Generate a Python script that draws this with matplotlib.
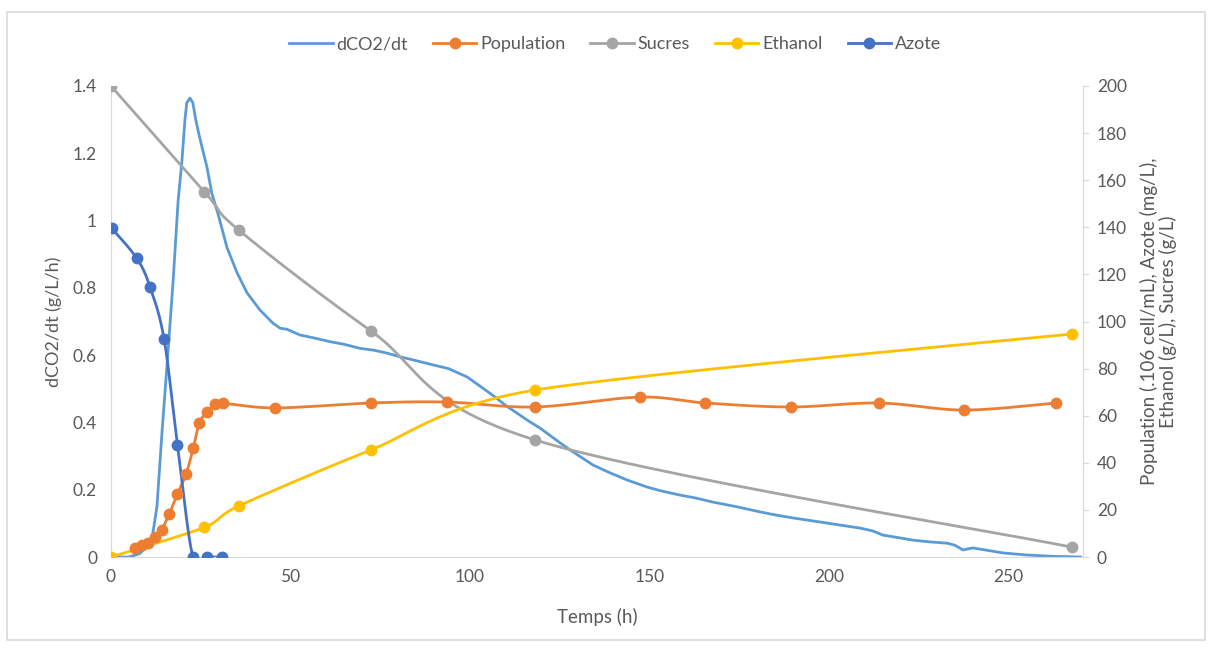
import numpy as np
import matplotlib
matplotlib.use("Agg")
import matplotlib.pyplot as plt
from matplotlib.patches import Rectangle
from matplotlib.lines import Line2D

plt.rcParams['font.family'] = ['Lato', 'DejaVu Sans']

# ---- data ----
co2_t = [0, 5, 8, 10.3, 11.5, 12.8, 14.2, 15.6, 17.3, 18.7, 19.7, 20.6, 21.1, 22.0, 22.8, 23.6,
         24.2, 25.3, 26.7, 28.1, 29.8, 32.3, 35.1, 37.9, 41.5, 45.1, 47.1, 49.0, 52.6, 57, 61,
         65, 69.4, 73, 76.9, 80.5, 84.1, 89.7, 94, 99.2, 102.5, 106.4, 110, 115.9, 119.5,
         125.1, 127.9, 134.3, 139, 143.7, 149.3, 153, 158.5, 163, 167.7, 174, 180.8, 185,
         190, 197.5, 203, 208.6, 212, 215, 219, 223.4, 228, 232.9, 235, 237.3, 240, 244,
         248.5, 255, 262.4, 270]
co2_v = [0, 0, 0.01, 0.036, 0.06, 0.15, 0.37, 0.57, 0.82, 1.06, 1.17, 1.30, 1.35, 1.364, 1.35,
         1.30, 1.27, 1.22, 1.16, 1.08, 1.02, 0.92, 0.845, 0.785, 0.734, 0.695, 0.68, 0.677,
         0.66, 0.65, 0.64, 0.632, 0.62, 0.615, 0.606, 0.595, 0.586, 0.571, 0.56, 0.535, 0.51,
         0.48, 0.45, 0.407, 0.383, 0.339, 0.318, 0.273, 0.25, 0.229, 0.208, 0.197, 0.184,
         0.175, 0.163, 0.15, 0.134, 0.125, 0.116, 0.104, 0.095, 0.086, 0.078, 0.065, 0.058,
         0.05, 0.045, 0.041, 0.035, 0.021, 0.027, 0.02, 0.012, 0.006, 0.002, 0.0]

pop_t = [6.7, 8.5, 10.4, 12.3, 14.1, 16.2, 18.5, 20.9, 22.9, 24.6, 26.7, 29.0, 31.1,
         45.8, 72.3, 93.6, 118.1, 147.2, 165.5, 189.4, 213.9, 237.5, 263.1]
pop_v = [3.7, 5.1, 6.1, 8.4, 11.5, 18.3, 26.8, 35.2, 46.2, 57.0, 61.4, 64.8, 65.3,
         63.3, 65.4, 65.8, 63.7, 67.9, 65.4, 63.7, 65.4, 62.4, 65.4]

sug_t = [0, 26.0, 35.6, 72.3, 118.1, 267.6]
sug_v = [200, 155.1, 138.8, 96.1, 49.7, 4.2]

eth_t = [0, 26.0, 35.6, 72.3, 118.1, 267.6]
eth_v = [0, 12.6, 21.7, 45.4, 70.9, 94.7]

azo_t = [0.2, 7.2, 10.9, 14.8, 18.5, 22.8, 26.7, 31.0]
azo_v = [139.6, 126.8, 114.5, 92.4, 47.6, 0, 0, 0]

x_ticks = [0, 50, 100, 150, 200, 250]
y1_ticks = [0, 0.2, 0.4, 0.6, 0.8, 1, 1.2, 1.4]
y1_labels = ['0', '0.2', '0.4', '0.6', '0.8', '1', '1.2', '1.4']
y2_ticks = [0, 20, 40, 60, 80, 100, 120, 140, 160, 180, 200]

C_CO2 = '#5B9BD5'
C_POP = '#ED7D31'
C_SUG = '#A5A5A5'
C_ETH = '#FFC000'
C_AZO = '#4472C4'
TXT = '#595959'
AX = '#D9D9D9'


def smooth(x, y, n=30, k=0.5):
    """Cardinal-spline curve through the points (display smoothing like Excel)."""
    x = np.asarray(x, float)
    y = np.asarray(y, float)
    P = np.column_stack([x, y])
    Pe = np.vstack([P[0], P, P[-1]])
    out = []
    for i in range(1, len(Pe) - 2):
        p0, p1, p2, p3 = Pe[i - 1], Pe[i], Pe[i + 1], Pe[i + 2]
        m1 = k * (p2 - p0)
        m2 = k * (p3 - p1)
        s = np.linspace(0, 1, n, endpoint=False)[:, None]
        h00 = 2 * s ** 3 - 3 * s ** 2 + 1
        h10 = s ** 3 - 2 * s ** 2 + s
        h01 = -2 * s ** 3 + 3 * s ** 2
        h11 = s ** 3 - s ** 2
        out.append(h00 * p1 + h10 * m1 + h01 * p2 + h11 * m2)
    out.append(Pe[-2][None, :])
    out = np.vstack(out)
    return out[:, 0], out[:, 1]


fig = plt.figure(figsize=(12.12, 6.48), dpi=100)
fig.patches.append(Rectangle((7 / 1212, 8 / 648), 1198 / 1212, 628 / 648, transform=fig.transFigure,
                             fill=False, edgecolor=AX, linewidth=1.2))

ax1 = fig.add_axes([111 / 1212, (648 - 557) / 648, (1083 - 111) / 1212, (557 - 86) / 648])
ax2 = ax1.twinx()

lw = 2.0
ms = 7.5
ax1.plot(co2_t, co2_v, color=C_CO2, lw=lw, zorder=2)

for t, v, c, kk in [(pop_t, pop_v, C_POP, 0.5),
                    (sug_t, sug_v, C_SUG, 0.5),
                    (eth_t, eth_v, C_ETH, 0.4),
                    (azo_t, azo_v, C_AZO, 0.5)]:
    sx, sy = smooth(t, v, k=kk)
    ax2.plot(sx, sy, color=c, lw=lw, zorder=2)
    ax2.plot(t, v, 'o', color=c, ms=ms, zorder=3)

ax1.set_xlim(0, 270.7)
ax1.set_ylim(0, 1.4)
ax2.set_ylim(0, 200)
ax1.set_xticks(x_ticks)
ax1.set_yticks(y1_ticks)
ax1.set_yticklabels(y1_labels)
ax2.set_yticks(y2_ticks)

for a in (ax1, ax2):
    for s in a.spines.values():
        s.set_visible(False)
    a.tick_params(colors=TXT, labelsize=12.5)
ax1.spines['bottom'].set_visible(True)
ax1.spines['bottom'].set_color(AX)
ax1.spines['left'].set_visible(True)
ax1.spines['left'].set_color(AX)
ax2.spines['right'].set_visible(True)
ax2.spines['right'].set_color(AX)
ax1.tick_params(axis='x', length=0, pad=9)
ax1.tick_params(axis='y', length=0, pad=10)
ax2.tick_params(axis='y', length=4, color=AX, pad=6)

ax1.set_xlabel('Temps (h)', color=TXT, fontsize=13.5, labelpad=16)
ax1.set_ylabel('dCO2/dt (g/L/h)', color=TXT, fontsize=13, labelpad=8)
ax2.set_ylabel('Population (.106 cell/mL), Azote (mg/L),\nEthanol (g/L), Sucres (g/L)',
               color=TXT, fontsize=13.5, labelpad=9, linespacing=1.1)

handles = [Line2D([], [], color=C_CO2, lw=lw),
           Line2D([], [], color=C_POP, lw=lw, marker='o', ms=ms),
           Line2D([], [], color=C_SUG, lw=lw, marker='o', ms=ms),
           Line2D([], [], color=C_ETH, lw=lw, marker='o', ms=ms),
           Line2D([], [], color=C_AZO, lw=lw, marker='o', ms=ms)]
labels = ['dCO2/dt', 'Population', 'Sucres', 'Ethanol', 'Azote']
fig.legend(handles, labels, loc='center', bbox_to_anchor=(615 / 1212, 1 - 44 / 648), ncol=5,
           frameon=False, fontsize=13, handlelength=2.4, columnspacing=1.4,
           handletextpad=0.2, labelcolor=TXT)

fig.savefig('out.png', dpi=100)
